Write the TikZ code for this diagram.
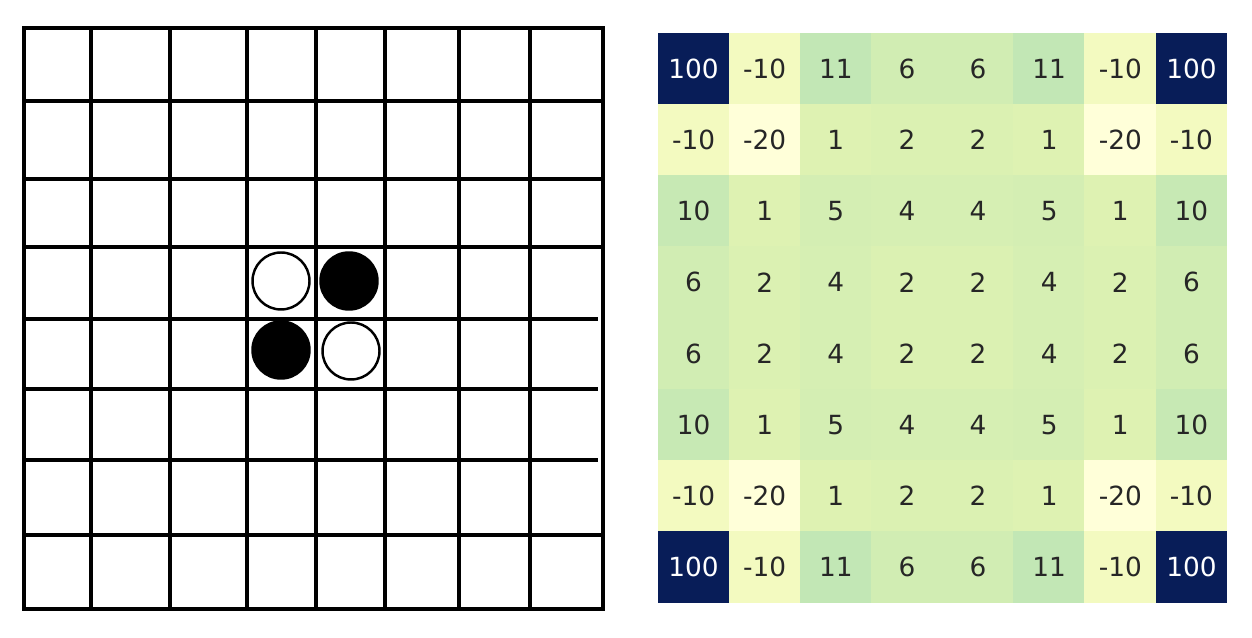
\documentclass[tikz,border=0pt]{standalone}
\usepackage{fontspec}
\setmainfont{DejaVu Sans}
\usepackage{xcolor}
\usepackage{tikz}
\usetikzlibrary{positioning}
\definecolor{ink}{HTML}{000000}
\definecolor{annot}{HTML}{262626}
\definecolor{hmm20}{HTML}{FFFFD9}
\definecolor{hmm10}{HTML}{F3FAC0}
\definecolor{hm1}{HTML}{DEF2B2}
\definecolor{hm2}{HTML}{DBF1B2}
\definecolor{hm4}{HTML}{D6EFB3}
\definecolor{hm5}{HTML}{D4EEB3}
\definecolor{hm6}{HTML}{D1EDB3}
\definecolor{hm10}{HTML}{C7E9B4}
\definecolor{hm11}{HTML}{C2E7B5}
\definecolor{hm100}{HTML}{081D58}
\tikzset{
  gridline/.style={draw=ink,line width=1.8pt},
  stone/.style={circle,inner sep=0pt,minimum size=1.14cm,line width=1.4pt},
  whitestone/.style={stone,draw=ink,fill=white},
  blackstone/.style={stone,fill=ink,minimum size=1.19cm},
  hmcell/.style={rectangle,inner sep=0pt,minimum width=1.435cm,minimum height=1.44cm,
    font=\fontsize{15}{18}\selectfont},
}
\begin{document}
\begin{tikzpicture}[x=0.02cm,y=-0.02cm]
  \useasboundingbox (0,0) rectangle (1252,638);
  % board
  \draw[gridline] (24,28) rectangle (603,609);
  \foreach \x in {91,170,247,316,385,459,530}
    \draw[gridline] (\x,28) -- (\x,609);
  \foreach \y/\xe in {101/603,179/603,247/603,319/598,389/598,460/598,535/603}
    \draw[gridline] (24,\y) -- (\xe,\y);
  % starting stones
  \node[whitestone] (d4) at (281,281) {};
  \node[blackstone] (e4) at (349,281) {};
  \node[blackstone] (d5) at (281,350) {};
  \node[whitestone] (e5) at (351,351) {};
  % weight heatmap
  \foreach \row [count=\r] in {
      {100,-10,11,6,6,11,-10,100},
      {-10,-20,1,2,2,1,-20,-10},
      {10,1,5,4,4,5,1,10},
      {6,2,4,2,2,4,2,6},
      {6,2,4,2,2,4,2,6},
      {10,1,5,4,4,5,1,10},
      {-10,-20,1,2,2,1,-20,-10},
      {100,-10,11,6,6,11,-10,100}}
    \foreach \v [count=\c] in \row {
      \edef\cname{hm\ifnum\v<0 m\the\numexpr-\v\relax\else\v\fi}
      \edef\tname{\ifnum\v>50 white\else annot\fi}
      \node[hmcell,fill=\cname,text=\tname] (hm-\r-\c)
        at ({658+(\c-0.5)*71.125},{34+(\r-0.5)*71.25-1}) {\v};
    }
\end{tikzpicture}
\end{document}
